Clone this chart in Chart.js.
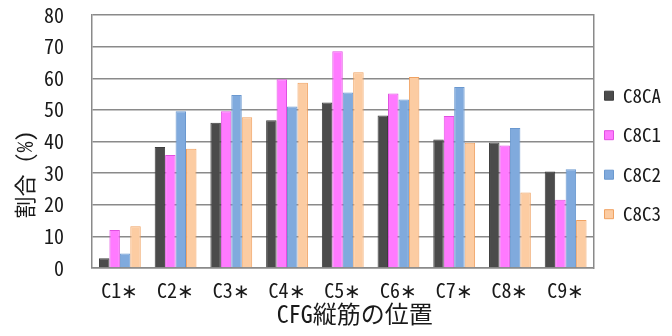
<!DOCTYPE html>
<html>
<head>
<meta charset="utf-8">
<script src="https://cdn.jsdelivr.net/npm/chart.js@4"></script>
<style>
  html, body { margin: 0; padding: 0; background: #fff; }
  #wrap { width: 672px; height: 336px; }
</style>
</head>
<body>
<div id="wrap"><canvas id="myChart"></canvas></div>
<script>
var positions = ['C1∗', 'C2∗', 'C3∗', 'C4∗', 'C5∗', 'C6∗', 'C7∗', 'C8∗', 'C9∗'];
var c8ca = [3.1, 38.3, 45.9, 46.7, 52.3, 48.2, 40.6, 39.7, 30.5];
var c8c1 = [12.0, 35.7, 49.6, 59.7, 68.5, 55.2, 48.1, 38.7, 21.6];
var c8c2 = [4.6, 49.6, 54.7, 51.1, 55.5, 53.3, 57.2, 44.3, 31.2];
var c8c3 = [13.2, 37.7, 47.7, 58.6, 61.9, 60.4, 39.6, 23.9, 15.2];

var font = "'Noto Sans Mono CJK JP', 'Noto Sans CJK JP', 'Liberation Sans', sans-serif";
Chart.defaults.font.family = font;
Chart.defaults.color = '#1a1a1a';

var gridGray = '#8a8a8a';

new Chart('myChart', {
  type: 'bar',
  data: {
    labels: positions,
    datasets: [
      { label: 'C8CA', data: c8ca, backgroundColor: '#4b4b4b', borderColor: '#3e3e3e', borderWidth: 1 },
      { label: 'C8C1', data: c8c1, backgroundColor: '#ff7aff', borderColor: '#e050e0', borderWidth: 1 },
      { label: 'C8C2', data: c8c2, backgroundColor: '#80aadd', borderColor: '#6a98cf', borderWidth: 1 },
      { label: 'C8C3', data: c8c3, backgroundColor: '#fccca2', borderColor: '#f0a262', borderWidth: 1 }
    ]
  },
  options: {
    responsive: true,
    maintainAspectRatio: false,
    animation: false,
    layout: { padding: { left: 13, right: 1, top: 15, bottom: 10 } },
    datasets: { bar: { barPercentage: 1, categoryPercentage: 0.75 } },
    plugins: {
      tooltip: { enabled: false },
      legend: {
        position: 'right',
        fullSize: false,
        // blank title only pushes the items down a little
        title: { display: true, text: ' ', font: { size: 12 }, padding: 11 },
        labels: {
          boxWidth: 9, boxHeight: 9, padding: 11,
          font: { size: 19, lineHeight: 1.5 }, color: '#1a1a1a',
          generateLabels: function (chart) {
            var items = Chart.defaults.plugins.legend.labels.generateLabels(chart);
            items.forEach(function (it) { it.text = [it.text]; });
            return items;
          }
        }
      }
    },
    scales: {
      x: {
        grid: { display: false },
        border: { display: true, color: gridGray, width: 1.5 },
        ticks: { font: { size: 20, lineHeight: 1 }, padding: 4, maxRotation: 0 },
        title: { display: true, text: '  CFG縦筋の位置', font: { size: 24, lineHeight: 1 }, padding: { top: 0, bottom: 0 } },
        afterFit: function (s) { s.height = 58; s.paddingLeft = 0; s.paddingRight = 0; }
      },
      y: {
        min: 0, max: 80,
        ticks: { stepSize: 10, font: { size: 20, lineHeight: 1 }, padding: 28 },
        grid: { color: gridGray, lineWidth: 1.5, drawTicks: false },
        border: { display: true, color: gridGray, width: 1.5 },
        title: { display: true, text: '割合 (%)      ', font: { size: 22, lineHeight: 1.1 }, padding: { top: 0, bottom: 6 } },
        afterFit: function (s) { s.width = 79; s.paddingTop = 0; s.paddingBottom = 0; }
      },
      y2: {
        position: 'right', min: 0, max: 80,
        ticks: { display: false },
        grid: { drawOnChartArea: false, drawTicks: false },
        border: { display: true, color: gridGray, width: 1.5 },
        afterFit: function (s) { s.width = 0; s.paddingTop = 0; s.paddingBottom = 0; }
      }
    }
  }
});
</script>
</body>
</html>
